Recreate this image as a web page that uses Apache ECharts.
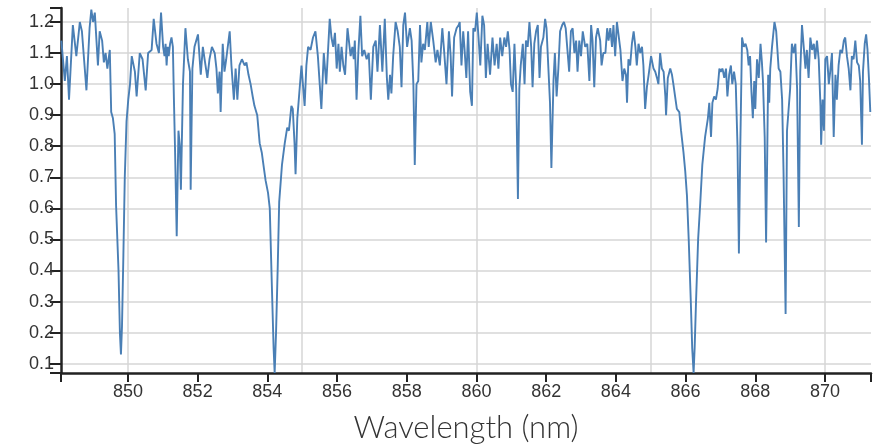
<!DOCTYPE html>
<html>
<head>
<meta charset="utf-8">
<script src="https://cdn.jsdelivr.net/npm/echarts@6/dist/echarts.min.js"></script>
<style>
  html, body { margin: 0; padding: 0; background: #fff; }
  #chart { width: 876px; height: 448px; }
</style>
</head>
<body>
<div id="chart"></div>
<script>
// wavelength (nm)
const wavelength = [
  848.09, 848.19, 848.25, 848.31, 848.42, 848.52, 848.62, 848.68, 848.81, 848.90,
  848.95, 849.00, 849.05, 849.14, 849.19, 849.26, 849.31, 849.36, 849.41, 849.48,
  849.52, 849.57, 849.62, 849.66, 849.73, 849.77, 849.80, 849.83, 849.87, 849.91,
  849.96, 850.01, 850.06, 850.11, 850.20, 850.25, 850.34, 850.42, 850.51, 850.58,
  850.68, 850.74, 850.82, 850.89, 850.95, 851.01, 851.05, 851.08, 851.11, 851.14,
  851.17, 851.21, 851.25, 851.29, 851.32, 851.35, 851.40, 851.45, 851.49, 851.52,
  851.58, 851.65, 851.72, 851.78, 851.80, 851.85, 851.91,
  // 852 - 856
  852.01, 852.09, 852.15, 852.20, 852.28, 852.34, 852.41, 852.49, 852.54, 852.58,
  852.63, 852.66, 852.72, 852.77, 852.82, 852.92, 852.97, 853.04, 853.09, 853.14,
  853.20, 853.27, 853.35, 853.40, 853.46, 853.52, 853.58, 853.63, 853.71, 853.78,
  853.84, 853.90, 853.95, 854.02, 854.07, 854.13, 854.18, 854.21, 854.25, 854.30,
  854.34, 854.42, 854.50, 854.57, 854.62, 854.69, 854.73, 854.78, 854.81, 854.86,
  854.93, 854.98, 855.02, 855.07, 855.12, 855.17, 855.24, 855.31, 855.38, 855.45,
  855.55, 855.62, 855.69, 855.79, 855.84,
  // 856 - 860
  855.89, 855.94, 855.99, 856.04, 856.08, 856.13, 856.18, 856.23, 856.30, 856.34,
  856.39, 856.44, 856.48, 856.51, 856.56, 856.61, 856.67, 856.72, 856.78, 856.85,
  856.91, 856.97, 857.04, 857.11, 857.16, 857.23, 857.30, 857.37, 857.43, 857.47,
  857.52, 857.56, 857.61, 857.68, 857.74, 857.80, 857.85, 857.90, 857.95, 858.01,
  858.09, 858.14, 858.19, 858.23, 858.28, 858.33, 858.38, 858.42, 858.47, 858.52,
  858.59, 858.63, 858.69, 858.76, 858.83, 858.88, 858.95, 859.02, 859.07, 859.14,
  859.21, 859.26, 859.30, 859.36, 859.43, 859.49, 859.52, 859.57, 859.62, 859.66,
  859.71, 859.76,
  // 860 - 864
  859.82, 859.87, 859.91, 859.96, 860.01, 860.06, 860.11, 860.17, 860.22, 860.27,
  860.32, 860.39, 860.46, 860.52, 860.58, 860.63, 860.68, 860.74, 860.80, 860.85,
  860.90, 860.95, 860.99, 861.04, 861.09, 861.14, 861.19, 861.23, 861.27, 861.33,
  861.38, 861.42, 861.47, 861.52, 861.57, 861.61, 861.66, 861.71, 861.76, 861.81,
  861.85, 861.92, 861.97, 862.01, 862.06, 862.11, 862.15, 862.21, 862.25, 862.30,
  862.35, 862.40, 862.46, 862.51, 862.56, 862.61, 862.66, 862.71, 862.76, 862.81,
  862.86, 862.90, 862.95, 863.00, 863.05, 863.12, 863.18, 863.24, 863.29, 863.33,
  863.38, 863.43, 863.48, 863.55, 863.59, 863.64,
  // 864 - 867.6
  863.70, 863.75, 863.79, 863.84, 863.89, 863.93, 863.98, 864.03, 864.08, 864.13,
  864.19, 864.24, 864.29, 864.32, 864.36, 864.41, 864.46, 864.51, 864.56, 864.60,
  864.65, 864.70, 864.75, 864.79, 864.84, 864.89, 864.94, 865.01, 865.08, 865.13,
  865.18, 865.22, 865.27, 865.32, 865.37, 865.42, 865.44, 865.49, 865.56, 865.61,
  865.65, 865.70, 865.75, 865.82, 865.87, 865.94, 865.99, 866.04, 866.09, 866.15,
  866.19, 866.23, 866.26, 866.30, 866.36, 866.42, 866.48, 866.56, 866.64, 866.68,
  866.73, 866.77, 866.82, 866.87, 866.92, 866.97, 867.01, 867.06, 867.11, 867.16,
  867.20, 867.25, 867.30, 867.34, 867.39, 867.44, 867.49, 867.53, 867.57,
  // 867.6 - end
  867.62, 867.67, 867.72, 867.77, 867.81, 867.85, 867.89, 867.93, 867.97, 868.00,
  868.05, 868.10, 868.15, 868.19, 868.22, 868.27, 868.31, 868.34, 868.37, 868.40,
  868.43, 868.48, 868.55, 868.60, 868.67, 868.72, 868.77, 868.81, 868.87, 868.91,
  868.96, 869.00, 869.05, 869.10, 869.15, 869.20, 869.25, 869.29, 869.34, 869.39,
  869.44, 869.48, 869.53, 869.58, 869.63, 869.68, 869.72, 869.77, 869.82, 869.87,
  869.89, 869.93, 869.97, 870.01, 870.06, 870.11, 870.15, 870.20, 870.25, 870.30,
  870.34, 870.39, 870.44, 870.49, 870.54, 870.58, 870.63, 870.68, 870.73, 870.77,
  870.82, 870.87, 870.92, 870.97, 871.01, 871.06, 871.09, 871.14, 871.18, 871.22,
  871.26, 871.30
];

// normalised intensity at each wavelength
const intensity = [
  1.14, 1.01, 1.09, 0.95, 1.19, 1.09, 1.20, 1.17, 0.98, 1.18,
  1.24, 1.20, 1.23, 1.06, 1.17, 1.14, 1.07, 1.10, 1.05, 1.11,
  0.91, 0.89, 0.84, 0.61, 0.40, 0.20, 0.13, 0.22, 0.45, 0.70,
  0.88, 0.95, 1.00, 1.09, 1.04, 0.96, 1.10, 1.08, 0.98, 1.10,
  1.11, 1.21, 1.13, 1.10, 1.23, 1.12, 1.09, 1.13, 1.06, 1.12,
  1.09, 1.13, 1.15, 1.12, 0.95, 0.80, 0.51, 0.85, 0.80, 0.66,
  1.00, 1.18, 1.08, 1.04, 0.66, 1.05, 1.12,
  // 852 - 856
  1.16, 1.03, 1.12, 1.08, 1.02, 1.08, 1.12, 1.10, 1.05, 0.97,
  1.04, 0.91, 1.13, 1.04, 1.08, 1.17, 1.06, 0.95, 1.05, 0.95,
  1.06, 1.08, 1.06, 1.07, 1.03, 1.00, 0.96, 0.93, 0.90, 0.81,
  0.78, 0.73, 0.69, 0.65, 0.60, 0.35, 0.15, 0.07, 0.20, 0.42,
  0.62, 0.74, 0.81, 0.86, 0.85, 0.93, 0.92, 0.81, 0.71, 0.89,
  0.99, 1.06, 1.00, 0.93, 1.06, 1.12, 1.11, 1.15, 1.17, 1.09,
  0.92, 1.10, 1.00, 1.21, 1.15,
  // 856 - 860
  1.12, 1.165, 1.05, 1.13, 1.04, 1.12, 1.06, 1.03, 1.18, 1.14,
  1.09, 1.12, 1.08, 1.14, 0.95, 1.10, 1.22, 1.09, 1.11, 1.08,
  1.10, 0.95, 1.12, 1.14, 1.04, 1.19, 1.04, 1.21, 1.02, 0.95,
  1.03, 0.97, 1.09, 1.20, 1.17, 1.12, 0.99, 1.19, 1.23, 1.12,
  1.18, 1.14, 1.00, 0.74, 1.00, 1.01, 1.19, 1.07, 1.13, 1.11,
  1.20, 1.12, 1.20, 1.14, 1.07, 1.11, 1.06, 1.18, 1.11, 1.00,
  1.17, 1.09, 0.96, 1.15, 1.18, 1.19, 1.20, 1.06, 1.17, 1.11,
  1.02, 1.17,
  // 860 - 864
  0.975, 0.93, 1.18, 1.17, 1.23, 1.15, 1.06, 1.22, 1.19, 1.02,
  1.13, 1.03, 1.15, 1.06, 1.13, 1.05, 1.15, 1.09, 1.15, 1.12,
  1.17, 1.11, 1.00, 0.975, 1.13, 0.985, 0.63, 0.985, 1.06, 1.13,
  1.00, 1.14, 1.12, 1.20, 1.12, 0.99, 1.13, 1.17, 1.19, 1.02,
  1.12, 1.15, 1.21, 1.18, 1.06, 0.94, 0.73, 1.01, 1.10, 0.96,
  1.05, 1.17, 1.19, 1.20, 1.18, 1.11, 1.04, 1.17, 1.18, 1.10,
  1.14, 1.04, 1.14, 1.09, 1.17, 1.12, 1.13, 1.01, 1.19, 1.14,
  0.99, 1.15, 1.18, 1.14, 1.06, 1.10,
  // 864 - 867.6
  1.10, 1.18, 1.14, 1.18, 1.12, 1.19, 1.09, 1.20, 1.20, 1.11,
  1.01, 1.05, 1.03, 0.94, 1.08, 1.06, 1.13, 1.17, 1.12, 1.06,
  1.13, 1.10, 1.12, 1.06, 0.92, 0.99, 1.03, 1.09, 1.05, 1.04,
  1.02, 1.00, 1.10, 1.05, 1.04, 0.96, 0.90, 1.02, 1.05, 1.03,
  1.00, 0.96, 0.92, 0.91, 0.85, 0.78, 0.72, 0.64, 0.50, 0.30,
  0.15, 0.07, 0.15, 0.30, 0.50, 0.615, 0.74, 0.83, 0.89, 0.94,
  0.83, 0.94, 0.96, 0.95, 0.985, 1.05, 1.04, 1.05, 1.02, 1.05,
  0.96, 1.03, 1.06, 1.00, 1.04, 1.00, 0.80, 0.455, 0.80,
  // 867.6 - end
  1.15, 1.12, 1.13, 1.11, 1.06, 1.09, 0.975, 0.89, 1.01, 0.92,
  1.08, 1.02, 1.13, 1.07, 1.01, 0.83, 0.49, 0.75, 1.03, 0.94,
  1.05, 1.12, 1.20, 1.17, 1.05, 1.04, 0.95, 0.72, 0.26, 0.85,
  0.85, 0.985, 1.13, 1.10, 1.13, 0.985, 0.54, 1.04, 1.19, 1.12,
  1.05, 1.11, 1.02, 1.15, 1.11, 1.13, 1.08, 1.14, 1.08, 0.93,
  0.805, 0.95, 0.85, 1.08, 1.09, 1.00, 1.04, 1.10, 0.83, 1.03,
  0.95, 1.06, 1.11, 1.10, 1.14, 1.15, 1.09, 1.05, 0.98, 1.09,
  1.08, 1.14, 1.07, 1.06, 1.01, 0.805, 1.04, 1.13, 1.16, 1.11,
  1.02, 0.91
];

const xRange = [848.08, 871.32];
const yRange = [0.07, 1.245];

const chart = echarts.init(document.getElementById("chart"), null, { renderer: "canvas" });

const axisColor = "#222";
const gridColor = "#d6d6d6";
const labelFont = { color: "#333", fontSize: 18, fontFamily: "Liberation Sans, Arial, sans-serif" };

// extra axis that only draws a tick at each end of the range
const endTicks = (range, extra) => ({
  type: "value",
  min: range[0],
  max: range[1],
  interval: range[1] - range[0],
  axisLine: { show: false },
  axisLabel: { show: false },
  splitLine: { show: false },
  ...extra,
});

const option = {
  animation: false,
  backgroundColor: "#fff",
  grid: { left: 61, right: 5, top: 8, bottom: 73, containLabel: false },
  xAxis: [
    {
      type: "value",
      min: xRange[0],
      max: xRange[1],
      minInterval: 2,
      maxInterval: 2,
      splitNumber: 12,
      name: "Wavelength (nm)",
      nameLocation: "middle",
      nameGap: 39,
      nameTextStyle: { color: "#333", fontSize: 31, fontFamily: "Lato", fontWeight: 300 },
      axisLine: { show: true, onZero: false, lineStyle: { color: axisColor, width: 2.5 } },
      axisTick: { show: true, length: 9, lineStyle: { color: axisColor, width: 2 } },
      axisLabel: {
        ...labelFont,
        margin: 10,
        showMinLabel: false,
        showMaxLabel: false,
        formatter: (v) => v.toFixed(0),
      },
      splitLine: { show: false },
    },
    {
      // vertical grid every 5 nm
      type: "value",
      min: xRange[0],
      max: xRange[1],
      minInterval: 5,
      maxInterval: 5,
      splitNumber: 5,
      position: "bottom",
      axisLine: { show: false },
      axisTick: { show: false },
      axisLabel: { show: false },
      splitLine: {
        show: true,
        showMinLine: false,
        showMaxLine: false,
        lineStyle: { color: gridColor, width: 1.5 },
      },
    },
    endTicks(xRange, {
      position: "bottom",
      axisTick: { show: true, length: 9, lineStyle: { color: axisColor, width: 2 } },
    }),
  ],
  yAxis: [
    {
      type: "value",
      min: yRange[0],
      max: yRange[1],
      minInterval: 0.1,
      maxInterval: 0.1,
      splitNumber: 12,
      axisLine: { show: true, onZero: false, lineStyle: { color: axisColor, width: 2.5 } },
      axisTick: { show: true, length: 11, lineStyle: { color: axisColor, width: 2 } },
      axisLabel: {
        ...labelFont,
        margin: 7,
        showMinLabel: false,
        showMaxLabel: false,
        formatter: (v) => v.toFixed(1),
      },
      splitLine: {
        show: true,
        showMinLine: false,
        showMaxLine: false,
        lineStyle: { color: gridColor, width: 1.5 },
      },
    },
    endTicks(yRange, {
      position: "left",
      axisTick: { show: true, length: 11, lineStyle: { color: axisColor, width: 2 } },
    }),
  ],
  series: [
    {
      type: "line",
      xAxisIndex: 0,
      yAxisIndex: 0,
      data: wavelength.map((w, i) => [w, intensity[i]]),
      showSymbol: false,
      symbol: "none",
      lineStyle: { color: "#4a7fb5", width: 1.9 },
      z: 3,
    },
  ],
};

chart.setOption(option);
</script>
</body>
</html>
